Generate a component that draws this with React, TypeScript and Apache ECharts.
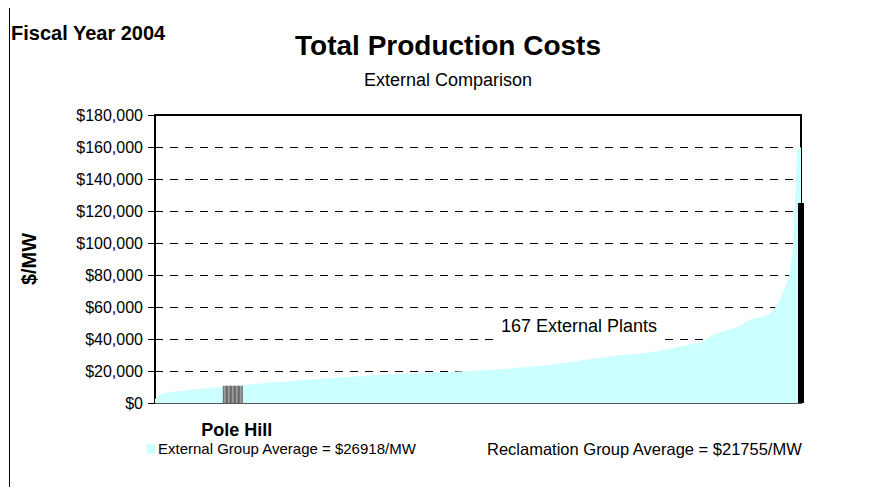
import React, { useEffect, useRef } from "react";
import * as echarts from "echarts";

// 167 external plants, sorted ascending ($/MW, in dollars)
const externalCosts: number[] = [
  2500, 4800, 5900, 6400, 6800, 7100, 7400, 7700, 8000, 8300,
  8500, 8700, 8900, 9100, 9300, 9600, 9800, 10000, 10200, 10400,
  10600, 10800, 11000, 11200, 11500, 11800, 12000, 12200, 12400, 12600,
  12800, 13000, 13200, 13300, 13500, 13700, 13900, 14100, 14300, 14500,
  14600, 14800, 15000, 15100, 15300, 15500, 15700, 15900, 16000, 16200,
  16400, 16500, 16700, 16900, 17000, 17200, 17400, 17500, 17700, 17800,
  17900, 18000, 18100, 18200, 18300, 18400, 18500, 18600, 18700, 18800,
  18900, 19000, 19100, 19200, 19300, 19400, 19500, 19600, 19700, 19800,
  19900, 20000, 20200, 20300, 20400, 20500, 20600, 20800, 21000, 21200,
  21400, 21600, 21800, 22000, 22200, 22400, 22600, 22800, 23000, 23200,
  23500, 23800, 24100, 24400, 24700, 25000, 25300, 25600, 26000, 26400,
  26800, 27200, 27500, 27800, 28000, 28400, 28800, 29200, 29500, 29800,
  30000, 30200, 30400, 30600, 30800, 31100, 31400, 31700, 32000, 32400,
  32800, 33300, 33800, 34300, 34800, 35300, 35800, 36300, 36800, 37300,
  37800, 39000, 40500, 42000, 43200, 44000, 44800, 45500, 46200, 47000,
  47800, 49000, 51000, 52000, 52800, 53300, 53800, 54500, 56000, 58500,
  62000, 67000, 73000, 80000, 98000, 158000, 160000,
];
const plantNames: string[] = externalCosts.map((_, i) => `Plant ${i + 1}`);

const poleHillIndex = 20;
const poleHillValue = 10800;
const lastPlantValue = 125000;

const externalLabel = "External Group Average = $26918/MW";
const reclamationLabel = "Reclamation Group Average = $21755/MW";
const plantsNote = "167 External Plants";

const FONT = "Arial, 'Liberation Sans', sans-serif";

export default function App() {
  const ref = useRef<HTMLDivElement>(null);
  useEffect(() => {
    if (!ref.current) return;
    const chart = echarts.init(ref.current, null, { renderer: "svg" });
    const poleData = externalCosts.map((_, i) => (i === poleHillIndex ? poleHillValue : "-"));
    const lastData = externalCosts.map((_, i) => (i === externalCosts.length - 1 ? lastPlantValue : "-"));
    const stripeStops: { offset: number; color: string }[] = [];
    for (let k = 0; k <= 10; k++) {
      stripeStops.push({ offset: k / 10, color: k % 2 === 0 ? "#5a5a5a" : "#a8a8a8" });
    }
    chart.setOption({
      animation: false,
      textStyle: { fontFamily: FONT },
      title: [
        {
          text: "Total Production Costs",
          left: 443,
          top: 26,
          textAlign: "center",
          textStyle: { fontSize: 28, fontWeight: "bold", color: "#000", fontFamily: FONT },
        },
        {
          text: "External Comparison",
          left: 443,
          top: 66,
          textAlign: "center",
          textStyle: { fontSize: 18, fontWeight: "normal", color: "#000", fontFamily: FONT },
        },
        {
          text: "Fiscal Year 2004",
          left: 11,
          top: 23,
          padding: 0,
          textStyle: { fontSize: 20, fontWeight: "bold", color: "#000", fontFamily: FONT },
        },
      ],
      legend: [
        {
          left: 147,
          top: 441,
          padding: 0,
          itemWidth: 8,
          itemHeight: 10,
          icon: "rect",
          textStyle: { fontSize: 15, color: "#000", fontFamily: FONT, padding: [0, 0, 0, -2] },
          data: [{ name: externalLabel, itemStyle: { color: "#ccffff" } }],
        },
        {
          left: 482,
          top: 440,
          padding: 0,
          itemWidth: 0,
          itemHeight: 10,
          icon: "none",
          textStyle: { fontSize: 16.5, color: "#000", fontFamily: FONT },
          data: [{ name: reclamationLabel }],
        },
      ],
      grid: { left: 155, right: 74, top: 115, bottom: 92 },
      xAxis: [
        {
          type: "category",
          data: plantNames,
          boundaryGap: false,
          axisLine: { show: true, onZero: false, lineStyle: { color: "#555", width: 1 } },
          axisTick: { show: false },
          axisLabel: { show: false },
          splitLine: { show: false },
        },
        {
          type: "category",
          data: plantNames,
          boundaryGap: false,
          position: "top",
          axisLine: { show: true, onZero: false, lineStyle: { color: "#000", width: 2 } },
          axisTick: { show: false },
          axisLabel: { show: false },
          splitLine: { show: false },
        },
      ],
      yAxis: [
        {
          type: "value",
          min: 0,
          max: 180000,
          interval: 20000,
          name: "$/MW",
          nameLocation: "middle",
          nameGap: 116,
          nameRotate: 90,
          nameTextStyle: { fontSize: 20, fontWeight: "bold", color: "#000", fontFamily: FONT },
          axisLine: { show: true, onZero: false, lineStyle: { color: "#000", width: 2 } },
          axisTick: { show: true, inside: false, length: 7, lineStyle: { color: "#000", width: 1 } },
          axisLabel: {
            fontSize: 16,
            color: "#000",
            margin: 12,
            fontFamily: FONT,
            formatter: (v: number) => "$" + v.toLocaleString("en-US"),
          },
          splitLine: { show: true, lineStyle: { color: "#000", type: [8, 7], width: 1 } },
        },
        {
          type: "value",
          min: 0,
          max: 180000,
          interval: 20000,
          position: "right",
          axisLine: { show: true, onZero: false, lineStyle: { color: "#000", width: 2 } },
          axisTick: { show: false },
          axisLabel: { show: false },
          splitLine: { show: false },
        },
      ],
      series: [
        {
          name: externalLabel,
          type: "line",
          data: externalCosts,
          showSymbol: false,
          symbol: "none",
          lineStyle: { width: 0 },
          itemStyle: { color: "#ccffff" },
          areaStyle: { color: "#ccffff", opacity: 1 },
          z: 1,
        },
        {
          name: "Pole Hill",
          type: "bar",
          data: poleData,
          barWidth: 20,
          itemStyle: {
            color: new echarts.graphic.LinearGradient(0, 0, 1, 0, stripeStops),
          },
          label: {
            show: true,
            position: "bottom",
            distance: 18,
            formatter: "{a}",
            fontSize: 18,
            fontWeight: "bold",
            color: "#000",
            fontFamily: FONT,
            offset: [4, 0],
          },
          z: 3,
        },
        {
          name: "Last plant",
          type: "bar",
          xAxisIndex: 1,
          data: lastData,
          barWidth: 6,
          itemStyle: { color: "#000" },
          z: 3,
        },
        {
          name: reclamationLabel,
          type: "line",
          data: [],
        },
      ],
      graphic: [
        {
          type: "rect",
          shape: { x: 9.5, y: 0.5, width: 900, height: 600 },
          style: { fill: "none", stroke: "#000", lineWidth: 1 },
          silent: true,
        },
        {
          type: "text",
          left: 497,
          top: 313,
          style: {
            text: plantsNote,
            fontSize: 18,
            fill: "#000",
            fontFamily: FONT,
            backgroundColor: "#fff",
            padding: [4, 6, 6, 4],
          },
          z: 10,
        },
      ],
    });
    return () => chart.dispose();
  }, []);
  return <div ref={ref} style={{ width: 875, height: 495, margin: -8 }} />;
}
